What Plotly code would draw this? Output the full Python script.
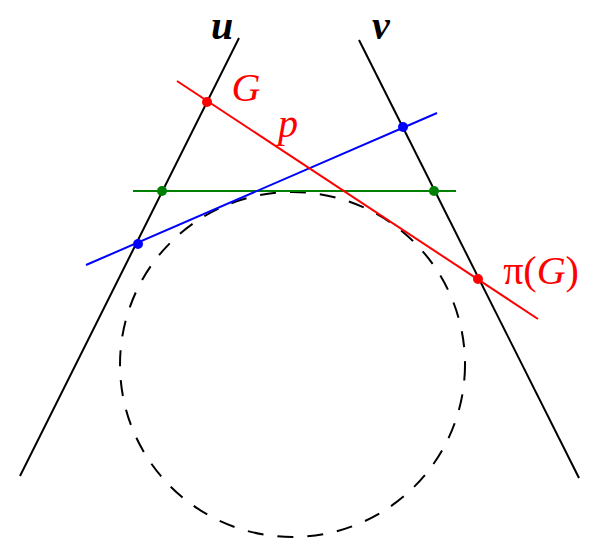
import plotly.graph_objs as go

# pixel-like coordinates, y grows downward
u_x = [20, 239]
u_y = [476, 38]
v_x = [359, 579]
v_y = [40, 478]
green_x = [133, 456]
green_y = [191, 191]
red_x = [177, 538]
red_y = [81, 319]
blue_x = [86, 437]
blue_y = [265, 113]

green_pts_x = [162, 434]
green_pts_y = [191, 191]
red_pts_x = [207, 478]
red_pts_y = [102, 279]
blue_pts_x = [138, 403]
blue_pts_y = [244, 127]

circle_cx = 292.5
circle_cy = 364.5
circle_r = 172.5

labels = ['u', 'v', 'G', 'p', 'π(G)']
label_x = [222, 381, 246, 288, 541]
label_y = [29, 29, 91, 127, 274]
label_colors = ['black', 'black', 'red', 'red', 'red']

fig = go.Figure()

def add_line(xs, ys, color):
    fig.add_trace(go.Scatter(x=xs, y=ys, mode='lines',
                             line=dict(color=color, width=2),
                             hoverinfo='skip', showlegend=False))

def add_points(xs, ys, color):
    fig.add_trace(go.Scatter(x=xs, y=ys, mode='markers',
                             marker=dict(color=color, size=10),
                             hoverinfo='skip', showlegend=False))

add_line(u_x, u_y, 'black')
add_line(v_x, v_y, 'black')
add_line(green_x, green_y, '#008000')
add_line(blue_x, blue_y, '#0000ff')
add_line(red_x, red_y, '#ff0000')
add_points(green_pts_x, green_pts_y, '#008000')
add_points(blue_pts_x, blue_pts_y, '#0000ff')
add_points(red_pts_x, red_pts_y, '#ff0000')

fig.add_shape(type='circle', xref='x', yref='y', layer='below',
              x0=circle_cx - circle_r, x1=circle_cx + circle_r,
              y0=circle_cy - circle_r, y1=circle_cy + circle_r,
              line=dict(color='black', width=2, dash='16px,14px'))

shown = []
for txt in labels:
    if txt in ('u', 'v'):
        shown.append('<b><i>' + txt + '</i></b>')
    elif txt == 'π(G)':
        shown.append('π(<i>G</i>)')
    else:
        shown.append('<i>' + txt + '</i>')

fig.add_trace(go.Scatter(x=label_x, y=label_y, mode='text', text=shown,
                         textposition='middle center', cliponaxis=False,
                         textfont=dict(family='Liberation Serif', size=40,
                                       color=label_colors),
                         hoverinfo='skip', showlegend=False))

fig.update_layout(
    width=600, height=557,
    margin=dict(l=0, r=0, t=0, b=0),
    paper_bgcolor='white', plot_bgcolor='white',
    xaxis=dict(range=[0, 600], visible=False),
    yaxis=dict(range=[557, 0], visible=False),
)

# drop the default 8px body margin so the figure fills the window
fig.write_html("out.html", config={'displayModeBar': False},
               post_script="document.body.style.margin='0';document.body.style.overflow='hidden';")
